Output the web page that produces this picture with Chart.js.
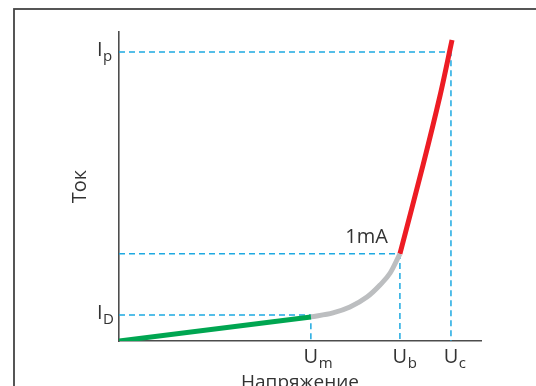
<!DOCTYPE html>
<html lang="ru">
<head>
  <meta charset="UTF-8" />
  <title>ВАХ варистора</title>
  <style>
    html, body { margin: 0; padding: 0; background: #fff; }
  </style>
</head>
<body>
<canvas id="vaChart" width="536" height="386"></canvas>

<script src="https://cdn.jsdelivr.net/npm/chart.js"></script>
<script>
  // curve pieces (voltage in arbitrary units, current in arbitrary units)
  const leakX = [0, 5.30];
  const leakY = [0, 0.78];
  const kneeX = [5.30, 5.91, 6.38, 6.85, 7.21, 7.49, 7.76];
  const kneeY = [0.78, 0.91, 1.10, 1.42, 1.81, 2.20, 2.82];
  const steepX = [7.76, 8.40, 8.87, 9.20];
  const steepY = [2.82, 5.70, 7.95, 9.74];

  // marked points on the axes
  const markU = [5.30, 7.76, 9.17];
  const markUSub = ["m", "b", "c"];
  const markI = [0.84, 2.82, 9.35];
  const markISub = ["D", null, "p"];
  const kneeLabel = "1mA";

  const xTitle = "Напряжение";
  const yTitle = "Ток";

  const FONT = "'Open Sans', 'DejaVu Sans', sans-serif";
  const TEXT = "#333333";
  const DASH = "#1ea9e1";

  function pts(xs, ys) {
    return xs.map((x, i) => ({ x: x, y: ys[i] }));
  }

  const datasets = [];

  // dashed guide lines
  markU.forEach((u, i) => {
    const iv = markI[i];
    datasets.push({
      data: [{ x: 0, y: iv }, { x: u, y: iv }, { x: u, y: 0 }],
      borderColor: DASH,
      borderWidth: 1.5,
      borderDash: [6, 4],
      pointRadius: 0,
      tension: 0,
      order: 2,
    });
  });

  datasets.push({
    data: pts(leakX, leakY),
    borderColor: "#00a651",
    borderWidth: 5,
    pointRadius: 0,
    order: 1,
  });
  datasets.push({
    data: pts(kneeX, kneeY),
    borderColor: "#bcbec0",
    borderWidth: 5,
    pointRadius: 0,
    tension: 0.4,
    cubicInterpolationMode: "monotone",
    order: 1,
  });
  datasets.push({
    data: pts(steepX, steepY),
    borderColor: "#ed1c24",
    borderWidth: 5,
    pointRadius: 0,
    tension: 0.3,
    order: 1,
  });

  function drawSub(ctx, main, sub, x, y, align) {
    ctx.font = "20px " + FONT;
    const w1 = ctx.measureText(main).width;
    let left = x;
    if (align === "center") left = x - w1 / 2;
    ctx.textAlign = "left";
    ctx.textBaseline = "alphabetic";
    ctx.fillText(main, left, y);
    if (sub) {
      ctx.font = "15px " + FONT;
      ctx.fillText(sub, left + w1 + 0.5, y + 5);
    }
  }

  const annotations = {
    id: "annotations",
    beforeDraw(chart) {
      const ctx = chart.ctx;
      ctx.save();
      ctx.strokeStyle = "#444";
      ctx.lineWidth = 1.8;
      ctx.strokeRect(14, 9, 700, 600);
      ctx.restore();
    },
    afterDraw(chart) {
      const ctx = chart.ctx;
      const xs = chart.scales.x;
      const ys = chart.scales.y;
      ctx.save();
      ctx.fillStyle = TEXT;

      markU.forEach((u, i) => {
        drawSub(ctx, "U", markUSub[i], xs.getPixelForValue(u), 363, "center");
      });

      markI.forEach((v, i) => {
        const py = ys.getPixelForValue(v);
        if (markISub[i]) {
          drawSub(ctx, "I", markISub[i], 97, py + 4, "left");
        } else {
          ctx.font = "20px " + FONT;
          ctx.textAlign = "right";
          ctx.textBaseline = "alphabetic";
          ctx.fillText(kneeLabel, xs.getPixelForValue(markU[i]) - 12, py - 11);
        }
      });

      ctx.font = "19px " + FONT;
      ctx.textAlign = "center";
      ctx.textBaseline = "alphabetic";
      ctx.fillText(xTitle, (xs.left + xs.right) / 2, 388);

      ctx.font = "20px " + FONT;
      ctx.translate(86, (ys.top + ys.bottom) / 2);
      ctx.rotate(-Math.PI / 2);
      ctx.fillText(yTitle, 0, 0);
      ctx.restore();
    },
  };

  new Chart(document.getElementById("vaChart"), {
    type: "scatter",
    data: { datasets: datasets },
    options: {
      responsive: false,
      animation: false,
      showLine: true,
      layout: { padding: { left: 119, top: 32, right: 55, bottom: 45 } },
      plugins: {
        legend: { display: false },
        tooltip: { enabled: false },
      },
      elements: { line: { borderCapStyle: "butt", borderJoinStyle: "round" } },
      scales: {
        x: {
          type: "linear",
          min: 0,
          max: 10,
          grid: { display: false, drawTicks: false },
          ticks: { display: false },
          border: { display: true, color: "#4d4d4d", width: 1.6 },
          afterFit(scale) { scale.height = 0; },
        },
        y: {
          type: "linear",
          min: 0,
          max: 10,
          grid: { display: false, drawTicks: false },
          ticks: { display: false },
          border: { display: true, color: "#4d4d4d", width: 1.6 },
          afterFit(scale) { scale.width = 0; },
        },
      },
    },
    plugins: [annotations],
  });
</script>
</body>
</html>
